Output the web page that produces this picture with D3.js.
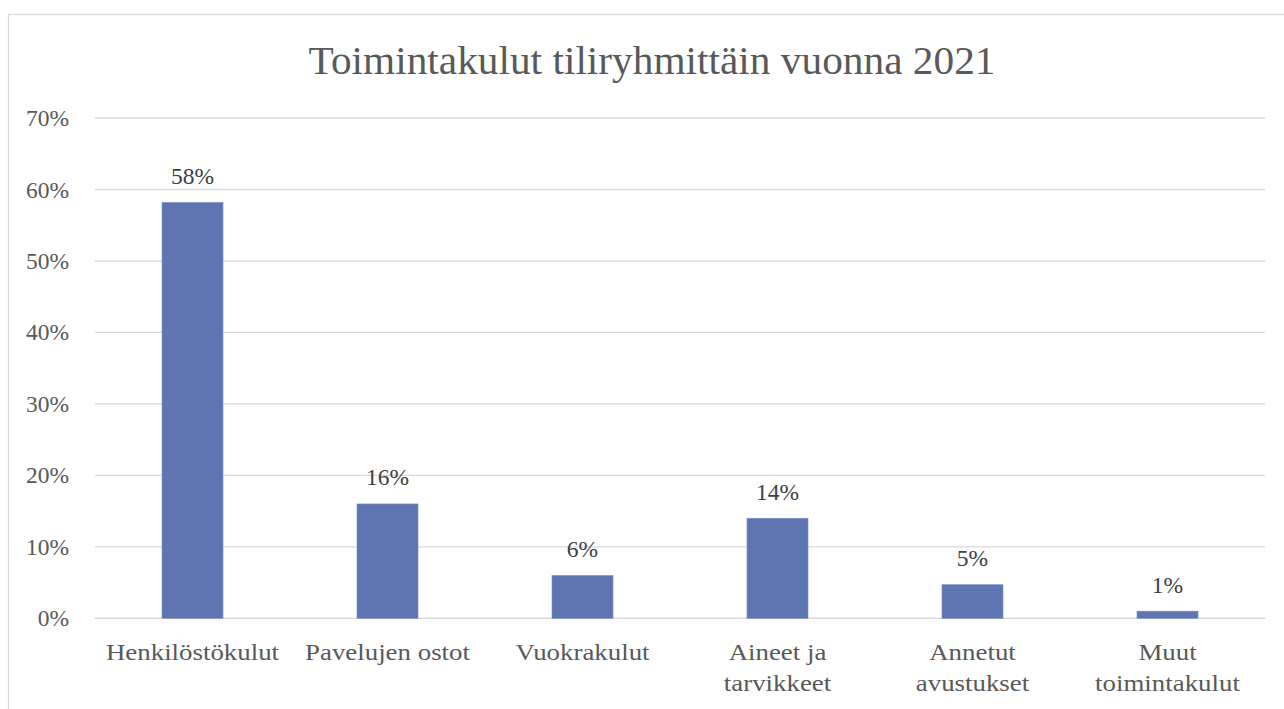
<!DOCTYPE html>
<html>
<head>
<meta charset="utf-8">
<script src="https://cdn.jsdelivr.net/npm/d3@7"></script>
<style>
  html, body { margin: 0; padding: 0; background: #fff; }
  svg { display: block; }
</style>
</head>
<body>
<svg id="chart" width="1284" height="709"></svg>
<script>
const title = "Toimintakulut tiliryhmittäin vuonna 2021";
const categories = ["Henkilöstökulut", "Pavelujen ostot", "Vuokrakulut", "Aineet ja\ntarvikkeet", "Annetut\navustukset", "Muut\ntoimintakulut"];
const values = [0.582, 0.16, 0.06, 0.14, 0.047, 0.01];
const dataLabels = ["58%", "16%", "6%", "14%", "5%", "1%"];
const yTicks = [0, 0.1, 0.2, 0.3, 0.4, 0.5, 0.6, 0.7];

const W = 1284, H = 709;
const margin = { left: 95, right: 19, top: 118, bottom: 91 };
const FONT = "'Liberation Serif', 'DejaVu Serif', serif";

const svg = d3.select("#chart");

// chart border
svg.append("rect")
  .attr("x", 8.5).attr("y", 14.5)
  .attr("width", 1400).attr("height", 900)
  .attr("fill", "#fff").attr("stroke", "#d9d9d9").attr("stroke-width", 1.2);

const x = d3.scaleBand()
  .domain(categories)
  .range([margin.left, W - margin.right])
  .paddingInner(0.687)
  .paddingOuter(0.3435);

const y = d3.scaleLinear()
  .domain([0, 0.7])
  .range([H - margin.bottom + 0.3, margin.top]);

// gridlines
svg.append("g").selectAll("line")
  .data(yTicks)
  .join("line")
  .attr("x1", margin.left).attr("x2", W - margin.right)
  .attr("y1", d => y(d)).attr("y2", d => y(d))
  .attr("stroke", "#d9d9d9").attr("stroke-width", 1.4);

// y axis labels
const yAxis = d3.axisLeft(y).tickValues(yTicks).tickFormat(d3.format(".0%")).tickSize(0).tickPadding(26);
const gy = svg.append("g").attr("transform", `translate(${margin.left},0)`).call(yAxis);
gy.select(".domain").remove();
gy.selectAll("text").attr("font-family", FONT).attr("font-size", 23.5).attr("fill", "#595959");

// bars
svg.append("g").selectAll("rect")
  .data(values)
  .join("rect")
  .attr("x", (d, i) => x(categories[i]))
  .attr("width", x.bandwidth())
  .attr("y", d => y(d))
  .attr("height", d => y(0) - y(d))
  .attr("fill", "#5e75b2")
  .attr("stroke", "#7f91c4").attr("stroke-width", 0.6);

// data labels
svg.append("g").selectAll("text")
  .data(values)
  .join("text")
  .attr("x", (d, i) => x(categories[i]) + x.bandwidth() / 2)
  .attr("y", d => y(d) - 18.5)
  .attr("text-anchor", "middle")
  .attr("font-family", FONT).attr("font-size", 23.5).attr("fill", "#404040")
  .text((d, i) => dataLabels[i]);

// x axis labels
const xl = svg.append("g").selectAll("text")
  .data(categories)
  .join("text")
  .attr("transform", d => `translate(${x(d) + x.bandwidth() / 2},660) scale(1.12,1)`)
  .attr("text-anchor", "middle")
  .attr("font-family", FONT).attr("font-size", 24).attr("fill", "#595959");
xl.each(function(d) {
  const lines = d.split("\n");
  d3.select(this).selectAll("tspan")
    .data(lines)
    .join("tspan")
    .attr("x", 0)
    .attr("dy", (l, i) => i === 0 ? 0 : 31)
    .text(l => l);
});

// title
svg.append("text")
  .attr("transform", "translate(652,74) scale(1.06,1)")
  .attr("text-anchor", "middle")
  .attr("font-family", FONT).attr("font-size", 39).attr("fill", "#595959")
  .text(title);
</script>
</body>
</html>
